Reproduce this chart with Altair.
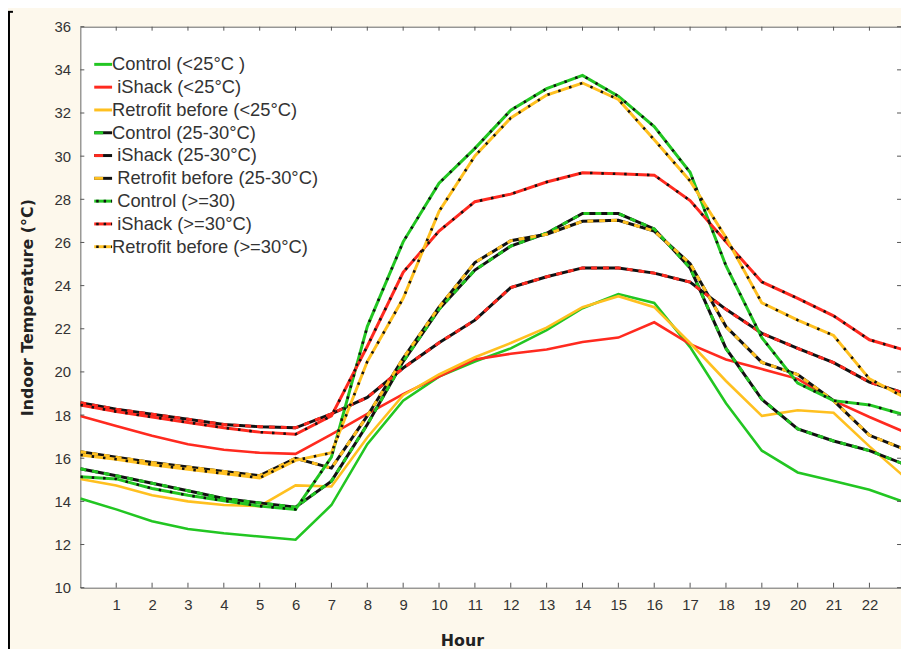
import altair as alt
import pandas as pd

hours = list(range(24))

control_lt25 = [14.13, 13.63, 13.08, 12.72, 12.52, 12.37, 12.22, 13.83, 16.65, 18.67, 19.78, 20.48,
                21.09, 21.94, 22.95, 23.61, 23.20, 21.15, 18.55, 16.35, 15.34, 14.94, 14.54, 13.95]
ishack_lt25 = [17.96, 17.49, 17.04, 16.65, 16.39, 16.25, 16.20, 17.11, 18.06, 18.97, 19.78, 20.58,
               20.84, 21.04, 21.39, 21.59, 22.30, 21.29, 20.58, 20.13, 19.68, 18.67, 17.91, 17.20]
retrofit_lt25 = [15.04, 14.74, 14.28, 14.00, 13.83, 13.78, 14.74, 14.69, 16.96, 18.92, 19.88, 20.68,
                 21.34, 22.05, 23.00, 23.51, 23.00, 21.34, 19.58, 17.96, 18.22, 18.11, 16.55, 15.10]
control_25_30 = [15.51, 15.19, 14.84, 14.49, 14.13, 13.93, 13.73, 14.94, 17.56, 20.48, 22.90, 24.72,
                 25.83, 26.43, 27.34, 27.34, 26.63, 24.82, 21.09, 18.73, 17.36, 16.80, 16.35, 15.70]
ishack_25_30 = [18.57, 18.27, 18.04, 17.81, 17.56, 17.46, 17.41, 18.06, 18.82, 20.18, 21.35, 22.40,
                23.91, 24.41, 24.82, 24.82, 24.58, 24.16, 22.90, 21.79, 21.09, 20.43, 19.53, 19.00]
retrofit_25_30 = [16.30, 16.05, 15.80, 15.59, 15.39, 15.19, 16.00, 15.54, 17.96, 20.63, 23.00, 25.07,
                  26.08, 26.38, 26.98, 27.03, 26.53, 25.02, 22.10, 20.44, 19.88, 18.67, 17.06, 16.40]
control_ge30 = [15.14, 15.04, 14.60, 14.28, 14.03, 13.78, 13.63, 16.05, 22.10, 26.03, 28.75, 30.36,
                32.13, 33.13, 33.74, 32.78, 31.37, 29.25, 24.92, 21.59, 19.48, 18.67, 18.47, 18.00]
ishack_ge30 = [18.47, 18.16, 17.91, 17.66, 17.41, 17.21, 17.11, 17.96, 21.19, 24.62, 26.53, 27.89,
               28.24, 28.80, 29.23, 29.18, 29.12, 27.94, 26.03, 24.17, 23.41, 22.60, 21.49, 21.00]
retrofit_ge30 = [16.15, 15.95, 15.70, 15.49, 15.29, 15.09, 15.90, 16.25, 20.48, 23.41, 27.44, 30.01,
                 31.77, 32.83, 33.39, 32.63, 30.76, 28.85, 26.23, 23.20, 22.40, 21.69, 19.68, 18.80]

all_series = [control_lt25, ishack_lt25, retrofit_lt25,
              control_25_30, ishack_25_30, retrofit_25_30,
              control_ge30, ishack_ge30, retrofit_ge30]
SP = "\u200b\u00a0"
series_labels = ["Control (<25°C )", SP + "iShack (<25°C)", "Retrofit before (<25°C)",
                 "Control (25-30°C)", SP + "iShack (25-30°C)", SP + "Retrofit before (25-30°C)",
                 SP + "Control (>=30)", SP + "iShack (>=30°C)", "Retrofit before (>=30°C)"]
series_kind = ["Control", "iShack", "Retrofit"] * 3
series_style = ["solid"] * 3 + ["dashed"] * 3 + ["dotted"] * 3
kind_domain = ["Control", "iShack", "Retrofit"]
kind_colors = ["#22C622", "#FF2A1F", "#FFC020"]

x_ticks = list(range(1, 23))
y_ticks = list(range(10, 37, 2))

rows = []
for i, vals in enumerate(all_series):
    for h, v in zip(hours, vals):
        rows.append({"hour": h, "temp": v, "series": series_labels[i],
                     "kind": series_kind[i], "style": series_style[i]})
df = pd.DataFrame(rows)

leg = pd.DataFrame({"row": list(range(9)), "label": series_labels,
                    "kind": series_kind, "style": series_style})

FONT = "Liberation Sans"
TFONT = "DejaVu Sans"

X = alt.X("hour:Q", scale=alt.Scale(domain=[0, 22.88], nice=False, zero=False),
          axis=alt.Axis(title="Hour", values=x_ticks, format="d", ticks=False, tickSize=0,
                        domain=False, grid=False, labelFont=FONT, labelFontSize=15,
                        labelColor="#333333", labelPadding=10, labelFlush=False,
                        titleFont=TFONT, titleFontSize=16, titleFontWeight="bold",
                        titleColor="#222222", titleX=385, titleY=58,
                        titleBaseline="alphabetic", titleAlign="center"))
Y = alt.Y("temp:Q", scale=alt.Scale(domain=[10, 36], nice=False, zero=False),
          axis=alt.Axis(title="Indoor Temperature (°C)", values=y_ticks, ticks=False, tickSize=0,
                        domain=False, grid=False, labelFont=FONT, labelFontSize=15,
                        labelColor="#333333", labelPadding=10, labelFlush=False,
                        titleFont=TFONT, titleFontSize=16, titleFontWeight="bold",
                        titleColor="#222222", titleX=-45, titleY=283, titleAngle=270,
                        titleAlign="center", titleBaseline="bottom"))
C = alt.Color("kind:N", scale=alt.Scale(domain=kind_domain, range=kind_colors), legend=None)

base = alt.Chart(df)
solid = base.transform_filter(alt.datum.style == "solid").mark_line(
    strokeWidth=2.6, clip=True).encode(x=X, y=Y, color=C, detail="series:N")
dash_black = base.transform_filter(alt.datum.style == "dashed").mark_line(
    strokeWidth=3, color="#111111", clip=True).encode(x=X, y=Y, detail="series:N")
dash_col = base.transform_filter(alt.datum.style == "dashed").mark_line(
    strokeWidth=3, strokeDash=[6, 6], clip=True).encode(x=X, y=Y, color=C, detail="series:N")
dot_col = base.transform_filter(alt.datum.style == "dotted").mark_line(
    strokeWidth=3, clip=True).encode(x=X, y=Y, color=C, detail="series:N")
dot_black = base.transform_filter(alt.datum.style == "dotted").mark_line(
    strokeWidth=2.6, color="#111111", strokeDash=[2.5, 9], clip=True).encode(
    x=X, y=Y, detail="series:N")

xt = alt.Chart(pd.DataFrame({"hour": x_ticks}))
yt = alt.Chart(pd.DataFrame({"temp": y_ticks}))
tick_style = dict(color="#555555", strokeWidth=1)
bottom_ticks = xt.mark_rule(**tick_style).encode(x=X, y=alt.value(566), y2=alt.value(561))
top_ticks = xt.mark_rule(**tick_style).encode(x=X, y=alt.value(0), y2=alt.value(4))
left_ticks = yt.mark_rule(**tick_style).encode(y=Y, x=alt.value(0), x2=alt.value(4))
right_ticks = yt.mark_rule(**tick_style).encode(y=Y, x=alt.value(828), x2=alt.value(824))

frame = alt.Chart(pd.DataFrame({"a": [0]}))
bracket = frame.mark_rule(color="black", strokeWidth=2).encode(
    x=alt.value(-72), y=alt.value(-15), y2=alt.value(640))
bracket_top = frame.mark_rule(color="black", strokeWidth=2).encode(
    x=alt.value(-73), x2=alt.value(-68), y=alt.value(-15))

main = alt.layer(solid, dash_black, dash_col, dot_col, dot_black,
                 bottom_ticks, top_ticks, left_ticks, right_ticks, bracket, bracket_top)

LY = alt.Y("row:Q", scale=alt.Scale(domain=[0, 8], range=[38, 222]), axis=None)
lbase = alt.Chart(leg)
leg_dash_black = lbase.transform_filter(alt.datum.style == "dashed").mark_rule(
    strokeWidth=3, color="#111111").encode(y=LY, x=alt.value(14), x2=alt.value(32))
leg_col_plain = lbase.transform_filter(alt.datum.style != "dashed").mark_rule(
    strokeWidth=3).encode(y=LY, x=alt.value(14), x2=alt.value(32), color=C)
leg_col_dash = lbase.transform_filter(alt.datum.style == "dashed").mark_rule(
    strokeWidth=3, strokeDash=[9, 9]).encode(y=LY, x=alt.value(14), x2=alt.value(32), color=C)
leg_dots = lbase.transform_filter(alt.datum.style == "dotted").mark_rule(
    strokeWidth=2.6, color="#111111", strokeDash=[2.5, 5]).encode(
    y=LY, x=alt.value(16), x2=alt.value(32))
leg_text = lbase.mark_text(align="left", baseline="middle", font=FONT, fontSize=18.5,
                           color="#333333").encode(y=LY, x=alt.value(32), text="label:N")
legend = alt.layer(leg_dash_black, leg_col_plain, leg_col_dash, leg_dots, leg_text)

chart = alt.layer(main, legend).resolve_scale(y="independent").properties(
    width=828, height=566,
    background="#FDF8EC",
    padding={"left": 73, "top": 16, "right": 0, "bottom": 59},
    autosize=alt.AutoSizeParams(type="none"),
).configure_view(fill="white", stroke="#666666", strokeWidth=1)

chart.save("out.html", embed_options={"renderer": "svg", "actions": False})
